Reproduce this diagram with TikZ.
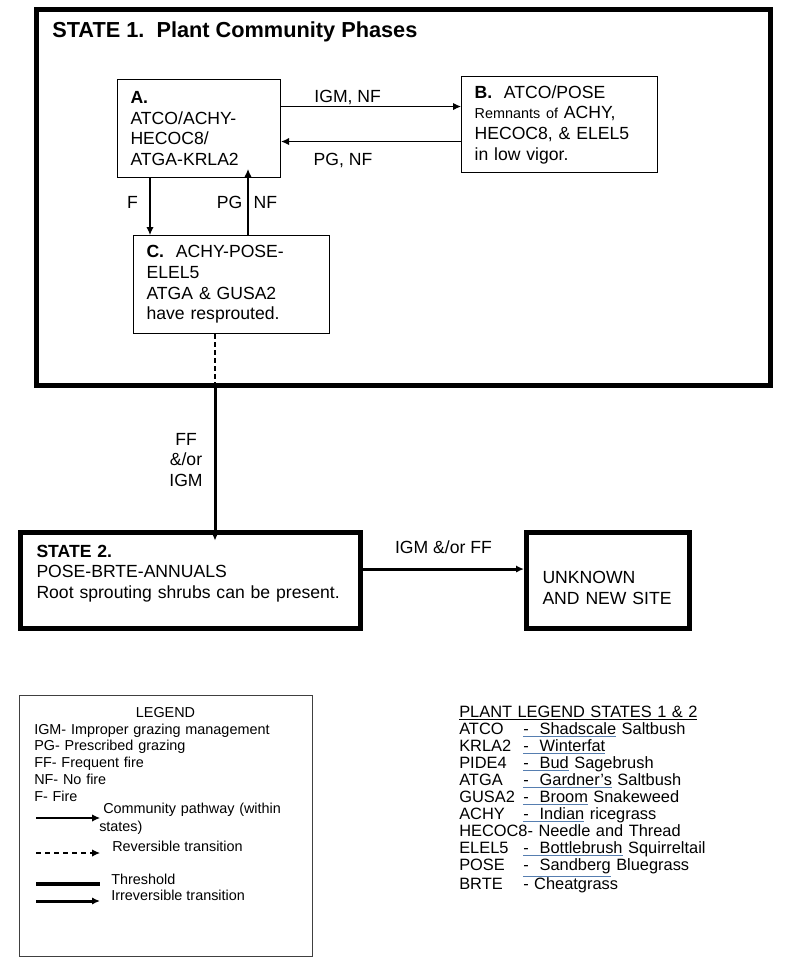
\documentclass[tikz,border=0pt]{standalone}
\usepackage{fontspec}
\setmainfont{Liberation Sans}
\usetikzlibrary{arrows.meta,positioning}

\definecolor{spellblue}{RGB}{86,126,176}
\newcommand{\boxfont}{\fontsize{13.2}{15.5}\selectfont}
\newcommand{\legfont}{\fontsize{10.8}{12.6}\selectfont}
\newcommand{\plfont}{\fontsize{12.3}{12.8}\selectfont}
\newcommand{\plcode}[1]{\makebox[48pt][l]{#1}}
\newcommand{\spell}[1]{\textcolor{spellblue}{\underline{\textcolor{black}{#1}}}}

\begin{document}
\begin{tikzpicture}[x=0.75pt,y=-0.75pt,>={Latex[length=6pt,width=5.5pt]},
  phase/.style={draw,line width=0.8pt,anchor=north west,align=left,inner xsep=9.75pt,inner ysep=0pt,font=\boxfont},
  state/.style={draw,line width=3.75pt,anchor=north west,align=left,inner xsep=12pt,inner ysep=0pt,minimum height=72pt,font=\boxfont},
  lbl/.style={inner sep=0pt,anchor=base,font=\boxfont},
  pathway/.style={->,line width=0.9pt},
  threshold/.style={->,line width=2.25pt}]
\useasboundingbox[fill=white] (0,0) rectangle (800,970);

% state 1 frame
\node[draw,line width=3.75pt,anchor=north west,inner sep=0pt,minimum width=550.5pt,minimum height=281.25pt] (s1) at (33.5,7.5) {};
\node[anchor=base west,inner sep=0pt,font=\fontsize{16.3}{19}\selectfont\bfseries] (s1title) at (52,38) {STATE 1.\ \ Plant Community Phases};

% community phases
\node[phase,text width=102.75pt,minimum height=73.5pt] (A) at (117,79) {\textbf{A.}\\ATCO/ACHY-\\HECOC8/\\ATGA-KRLA2};
\node[phase,text width=127.5pt,minimum height=72pt,right=135pt of A,yshift=3pt] (B) {\textbf{B.}\ \ ATCO/POSE\\{\fontsize{10.8}{15.5}\selectfont Remnants of} ACHY,\\HECOC8, \& ELEL5\\in low vigor.};
\node[phase,text width=127.5pt,minimum height=73.5pt,below=42.75pt of A.south west,anchor=north west,xshift=12pt] (C) {\textbf{C.}\ \ ACHY-POSE-\\ELEL5\\ATGA \& GUSA2\\have resprouted.};

% state 2 and unknown site
\node[state,text width=231pt] (s2) at (18,530) {\textbf{STATE 2.}\\POSE-BRTE-ANNUALS\\Root sprouting shrubs can be present.\rule[-13.4pt]{0pt}{13.4pt}};
\node[state,text width=98pt,right=120.75pt of s2] (un) {\rule{0pt}{20pt}UNKNOWN\\AND NEW SITE};

% pathways
\coordinate (ab) at ([yshift=16.5pt]A.east);
\coordinate (ba) at ([yshift=-9.75pt]A.east);
\coordinate (ac) at ([xshift=24.75pt]A.south west);
\coordinate (ca) at ([xshift=86.25pt]C.north west);
\coordinate (cut) at (215,385);
\coordinate (s2un) at ([yshift=8.6pt]s2.east);

\draw[pathway] (ab) -- (ab -| B.west) node[lbl,pos=.37,yshift=3pt] {IGM, NF};
\draw[pathway] (ba -| B.west) -- (ba) node[lbl,pos=.656,yshift=-18pt] {PG, NF};
\draw[pathway] (ac) -- (ac |- C.north) node[lbl,pos=.526,xshift=-13.1pt] {F};
\draw[pathway,shorten >=-6.75pt] (ca) -- (ca |- A.south)
   node[lbl,pos=.47,anchor=base east,xshift=-3.75pt] {PG}
   node[lbl,pos=.47,anchor=base west,xshift=3.75pt] {NF};

% transitions
\draw[line width=0.9pt,dash pattern=on 3.75pt off 2.25pt] (cut |- C.south) -- (cut);
\draw[threshold,shorten >=-8pt] (cut) -- (cut |- s2.north)
   node[lbl,pos=.414,xshift=-21.75pt,text width=30pt,align=center] {FF\\\&/or\\IGM};
\draw[threshold] (s2un) -- (s2un -| un.west) node[lbl,pos=.5,yshift=12pt] {IGM \&/or FF};

% legend
\node[draw=black!75,line width=0.8pt,anchor=north west,minimum width=219.75pt,minimum height=195.75pt] (leg) at (19,695) {};
\node[anchor=base,inner sep=0pt,font=\legfont] (legtitle) at (165.5,717) {LEGEND};
\node[anchor=base west,inner sep=0pt,font=\legfont,text width=180pt,align=left] (legkeys) at (34,734)
  {IGM- Improper grazing management\\PG- Prescribed grazing\\FF- Frequent fire\\NF- No fire\\F- Fire};
\coordinate (k1a) at (36,818);  \coordinate (k1b) at (100,818);
\coordinate (k2a) at (36,853);  \coordinate (k2b) at (100,853);
\coordinate (k3a) at (36,884);  \coordinate (k3b) at (100,884);
\coordinate (k4a) at (36,901);  \coordinate (k4b) at (100,901);
\draw[->,line width=0.8pt] (k1a) -- (k1b);
\draw[->,line width=0.8pt,dash pattern=on 3.75pt off 3pt] (k2a) -- (k2b);
\draw[line width=3pt] (k3a) -- (k3b);
\draw[->,line width=2.25pt] (k4a) -- (k4b);
\node[anchor=base west,inner sep=0pt,font=\fontsize{10.8}{13.5}\selectfont,text width=150pt,align=left] (k1t) at (103,813) {Community pathway (within\\\hspace*{-3pt}states)};
\node[anchor=base west,inner sep=0pt,font=\legfont] (k2t) at (112,851) {Reversible transition};
\node[anchor=base west,inner sep=0pt,font=\legfont] (k3t) at (111,884) {Threshold};
\node[anchor=base west,inner sep=0pt,font=\legfont] (k4t) at (111,900) {Irreversible transition};

% plant legend
\node[anchor=base west,inner sep=0pt,font=\plfont,text width=200pt,align=left] (plants) at (459,717)
  {\underline{PLANT LEGEND STATES 1 \& 2}\\
   \plcode{ATCO}\spell{-\ \ Shadscale} Saltbush\\
   \plcode{KRLA2}\spell{-\ \ Winterfat}\\
   \plcode{PIDE4}\spell{-\ \ Bud} Sagebrush\\
   \plcode{ATGA}\spell{-\ \ Gardner’s} Saltbush\\
   \plcode{GUSA2}\spell{-\ \ Broom} Snakeweed\\
   \plcode{ACHY}\spell{-\ \ Indian} ricegrass\\
   HECOC8- Needle and Thread\\
   \plcode{ELEL5}\spell{-\ \ Bottlebrush} Squirreltail\\
   \plcode{POSE}\spell{-\ \ Sandberg} Bluegrass\\
   \plcode{BRTE}- Cheatgrass};
\end{tikzpicture}
\end{document}
